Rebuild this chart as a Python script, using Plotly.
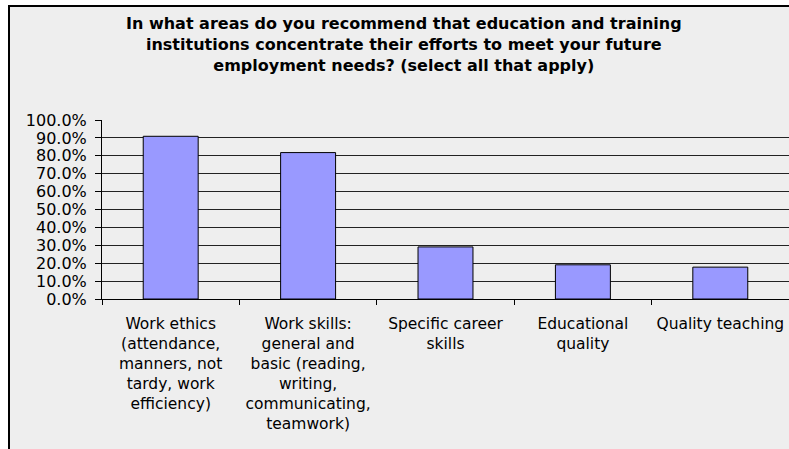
import plotly.graph_objects as go

# Survey responses: share of employers choosing each focus area
categories = [
    "Work ethics<br>(attendance,<br>manners, not<br>tardy, work<br>efficiency)",
    "Work skills:<br>general and<br>basic (reading,<br>writing,<br>communicating,<br>teamwork)",
    "Specific career<br>skills",
    "Educational<br>quality",
    "Quality teaching",
]
shares = [0.909, 0.818, 0.291, 0.191, 0.178]

title_text = ("In what areas do you recommend that education and training<br>"
              "institutions concentrate their efforts to meet your future<br>"
              "employment needs? (select all that apply)")

W, H = 789, 449
L, R, T, B = 102, 0, 120, 150
pw, ph = W - L - R, H - T - B


def px_x(px):
    return (px - L) / pw


def px_y(py):
    return (H - B - py) / ph


font_family = "DejaVu Sans, Verdana, sans-serif"

fig = go.Figure(
    go.Bar(
        x=categories,
        y=shares,
        marker=dict(color="#9999FF", line=dict(color="#000000", width=1)),
        width=0.4,
    )
)

# White strips outside the chart frame, then the frame's left and top edges
fig.add_shape(type="rect", xref="paper", yref="paper", layer="below",
              x0=px_x(-20), x1=px_x(9), y0=px_y(500), y1=px_y(-20),
              fillcolor="#FFFFFF", line=dict(width=0))
fig.add_shape(type="rect", xref="paper", yref="paper", layer="below",
              x0=px_x(-20), x1=px_x(820), y0=px_y(6), y1=px_y(-20),
              fillcolor="#FFFFFF", line=dict(width=0))
fig.add_shape(type="line", xref="paper", yref="paper", layer="below",
              x0=px_x(9), x1=px_x(9), y0=px_y(500), y1=px_y(6),
              line=dict(color="#000000", width=2))
fig.add_shape(type="line", xref="paper", yref="paper", layer="below",
              x0=px_x(8), x1=px_x(820), y0=px_y(6), y1=px_y(6),
              line=dict(color="#000000", width=2))

fig.add_annotation(
    text=title_text, xref="paper", yref="paper",
    x=px_x(404), y=px_y(44), xanchor="center", yanchor="middle",
    showarrow=False, align="center",
    font=dict(family=font_family, size=16, color="#000000", weight="bold"),
)

fig.update_layout(
    width=W, height=H,
    margin=dict(l=L, r=R, t=T, b=B, pad=0),
    paper_bgcolor="#EEEEEE",
    plot_bgcolor="rgba(0,0,0,0)",
    showlegend=False,
    font=dict(family=font_family, size=15, color="#000000"),
    xaxis=dict(
        showline=True, linecolor="#000000", linewidth=1,
        ticks="outside", tickson="boundaries", ticklen=5, tickcolor="#000000",
        showgrid=False, tickangle=0, ticklabelstandoff=10,
        tickfont=dict(size=15.5),
    ),
    yaxis=dict(
        range=[0, 1], dtick=0.1, tickformat=".1%",
        showline=True, linecolor="#000000", linewidth=1,
        ticks="outside", ticklen=6, tickcolor="#000000",
        showgrid=True, gridcolor="#222222", gridwidth=1,
        zeroline=False, ticklabelstandoff=5, tickfont=dict(size=16),
    ),
)

fig.write_html("out.html")
